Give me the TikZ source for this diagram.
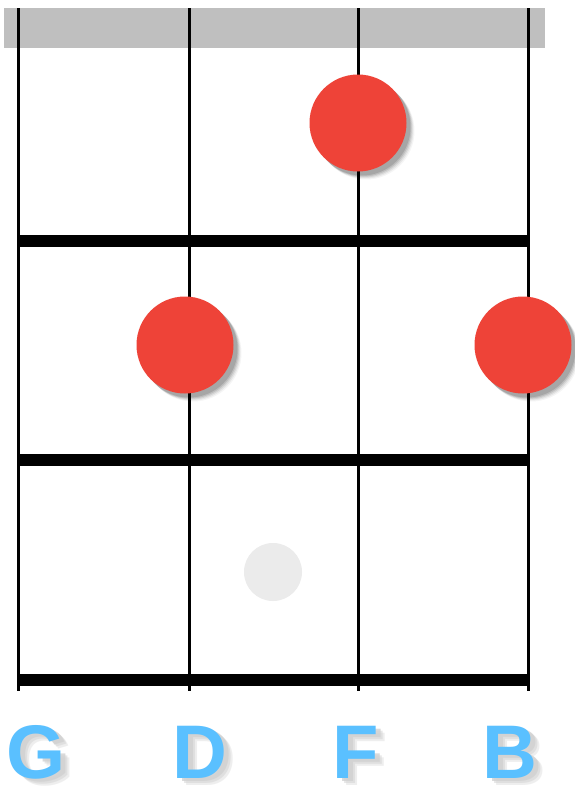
\documentclass[tikz,border=0pt]{standalone}
\usepackage{fontspec}
\setmainfont{Liberation Sans}
\begin{document}
\begin{tikzpicture}[x=1pt,y=-1pt,
  stringline/.style={line width=3pt,black},
  fretbar/.style={line width=12pt,black},
  fingerdot/.style={circle,minimum size=97pt,inner sep=0pt,fill=dotred},
  dotshadow/.style={circle,minimum size=97pt,inner sep=0pt,fill=black},
  ghostdot/.style={circle,minimum size=58pt,inner sep=0pt,fill=ghost},
  notelabel/.style={font=\fontsize{76}{76}\selectfont\bfseries,text=labelblue,inner sep=0pt,anchor=base},
  noteshadow/.style={font=\fontsize{76}{76}\selectfont\bfseries,text=black!18,inner sep=0pt,anchor=base}]
\definecolor{dotred}{HTML}{EE4338}
\definecolor{ghost}{HTML}{EBEBEB}
\definecolor{labelblue}{HTML}{5AC0FF}
\definecolor{nutgray}{HTML}{BFBFBF}
\useasboundingbox (0,0) rectangle (574,787);
\fill[white] (0,0) rectangle (574,787);
% nut
\fill[nutgray] (4,8) rectangle (545,48);
% strings
\foreach \sx/\nm in {18/sG,189/sD,358/sF,528/sB}{
  \coordinate (\nm top) at (\sx,8);
  \coordinate (\nm bot) at (\sx,691);
  \draw[stringline] (\nm top) -- (\nm bot);
}
% frets
\foreach \fy/\nm in {241/f1,460/f2,680/f3}{
  \coordinate (\nm l) at (18,\fy);
  \coordinate (\nm r) at (530,\fy);
  \draw[fretbar] (\nm l) -- (\nm r);
}
% dot shadows
\foreach \dx/\dy in {358/123,185/345,523/345}{
  \foreach \o/\op in {8/0.04,7/0.06,6/0.08,5/0.1,4/0.12}{
    \node[dotshadow,opacity=\op] at (\dx+\o,\dy+\o) {};
  }
}
% dots
\node[fingerdot] (d1) at (358,123) {};
\node[fingerdot] (d2) at (185,345) {};
\node[fingerdot] (d3) at (523,345) {};
\node[ghostdot] (g1) at (273,572) {};
% label shadows (soft, layered)
\foreach \lx/\lt in {36/G,200/D,356/F,510/B}{
  \foreach \o/\op in {9/0.35,7/0.5,5/0.8}{
    \node[noteshadow,opacity=\op] at (\lx+\o,778+\o-2) {\lt};
  }
}
% labels
\node[notelabel] (lG) at (36,778) {G};
\node[notelabel] (lD) at (200,778) {D};
\node[notelabel] (lF) at (356,778) {F};
\node[notelabel] (lB) at (510,778) {B};
\end{tikzpicture}
\end{document}
